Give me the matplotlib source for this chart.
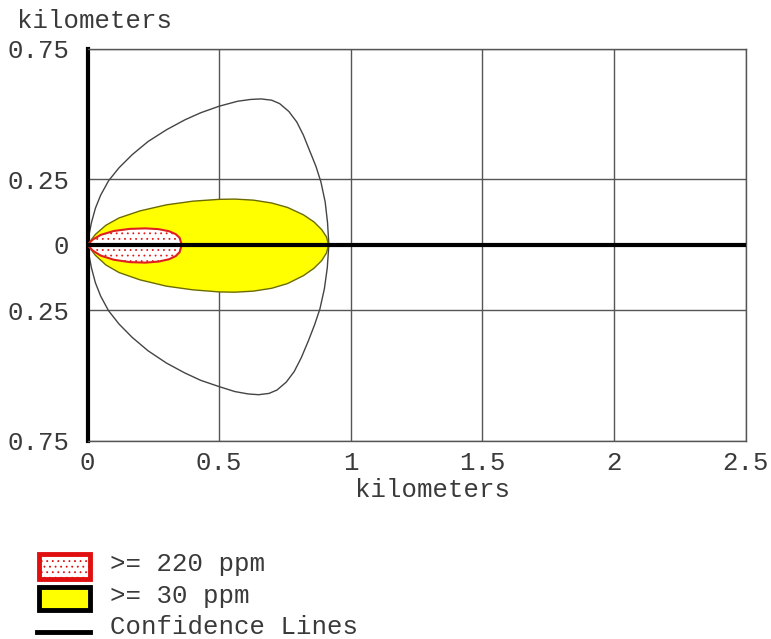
import matplotlib
matplotlib.use("Agg")
import matplotlib.pyplot as plt
from matplotlib.patches import Polygon, Rectangle
from matplotlib.lines import Line2D

plt.rcParams['font.family'] = ['Liberation Mono', 'DejaVu Sans Mono']
plt.rcParams['hatch.linewidth'] = 0.6

# threat zone outlines (km downwind, km crosswind)
red_x_top = [0, 0.02, 0.05, 0.1, 0.16, 0.22, 0.27, 0.31, 0.335, 0.35, 0.358]
red_y_top = [0, 0.02, 0.038, 0.053, 0.061, 0.063, 0.06, 0.052, 0.041, 0.027, 0]
red_x_bot = [0, 0.02, 0.05, 0.1, 0.16, 0.22, 0.27, 0.31, 0.335, 0.35, 0.358]
red_y_bot = [0, -0.022, -0.041, -0.057, -0.066, -0.068, -0.064, -0.055, -0.043, -0.028, 0]

yel_x_top = [0, 0.03, 0.07, 0.12, 0.2, 0.3, 0.4, 0.5, 0.56, 0.63, 0.7, 0.76, 0.82, 0.86, 0.89, 0.908, 0.916]
yel_y_top = [0, 0.04, 0.075, 0.103, 0.13, 0.153, 0.167, 0.174, 0.175, 0.171, 0.16, 0.143, 0.115, 0.088, 0.058, 0.03, 0]
yel_x_bot = [0, 0.03, 0.07, 0.12, 0.2, 0.3, 0.4, 0.5, 0.56, 0.63, 0.7, 0.76, 0.82, 0.86, 0.89, 0.908, 0.916]
yel_y_bot = [0, -0.04, -0.077, -0.106, -0.134, -0.158, -0.172, -0.18, -0.181, -0.177, -0.166, -0.148, -0.118, -0.09, -0.06, -0.031, 0]

conf_x_top = [0, 0.005, 0.015, 0.03, 0.05, 0.08, 0.12, 0.17, 0.23, 0.3, 0.37, 0.43, 0.5, 0.57, 0.62, 0.66, 0.7, 0.73, 0.765, 0.795, 0.82, 0.846, 0.868, 0.887, 0.903, 0.912, 0.917]
conf_y_top = [0, 0.035, 0.085, 0.14, 0.19, 0.245, 0.295, 0.345, 0.395, 0.44, 0.478, 0.505, 0.53, 0.549, 0.556, 0.558, 0.553, 0.54, 0.51, 0.47, 0.42, 0.355, 0.3, 0.24, 0.164, 0.085, 0]
conf_x_bot = [0, 0.005, 0.015, 0.03, 0.05, 0.08, 0.12, 0.17, 0.23, 0.3, 0.37, 0.43, 0.5, 0.56, 0.61, 0.65, 0.69, 0.72, 0.755, 0.785, 0.812, 0.84, 0.863, 0.883, 0.9, 0.911, 0.917]
conf_y_bot = [0, -0.036, -0.088, -0.145, -0.196, -0.252, -0.303, -0.354, -0.405, -0.452, -0.49, -0.518, -0.542, -0.561, -0.57, -0.573, -0.568, -0.555, -0.525, -0.485, -0.432, -0.365, -0.305, -0.245, -0.168, -0.088, 0]

center_x = [0, 2.5]
center_y = [0, 0]

x_ticks = [0, 0.5, 1, 1.5, 2, 2.5]
x_labels = ["0", "0.5", "1", "1.5", "2", "2.5"]
y_ticks = [-0.75, -0.25, 0, 0.25, 0.75]
y_labels = ["0.75", "0.25", "0", "0.25", "0.75"]

legend_labels = [">= 220 ppm", ">= 30 ppm", "Confidence Lines"]

W, H = 771, 639
fig = plt.figure(figsize=(W / 100, H / 100), dpi=100)
ax = fig.add_axes([87.5 / W, 1 - 441 / H, 658 / W, 392.3 / H])
txt = '#3a3a3a'
fs = 18.5

def outline(xt, yt, xb, yb):
    pts = list(zip(xt, yt)) + list(zip(xb, yb))[::-1]
    return pts

ax.add_patch(Polygon(outline(yel_x_top, yel_y_top, yel_x_bot, yel_y_bot), closed=True,
                     facecolor='#ffff00', edgecolor='#6b6b00', lw=1.0, zorder=3))
ax.add_patch(Polygon(outline(red_x_top, red_y_top, red_x_bot, red_y_bot), closed=True,
                     facecolor='white', edgecolor='#e02020', lw=1.5, hatch='...', zorder=4))
cx = conf_x_top + conf_x_bot[::-1]
cy = conf_y_top + conf_y_bot[::-1]
ax.plot(cx, cy, color='#444444', lw=1.0, zorder=2)
ax.plot(center_x, center_y, color='black', lw=3, solid_capstyle='butt', zorder=5)

ax.set_xlim(0, 2.5)
ax.set_ylim(-0.75, 0.75)
ax.set_xticks(x_ticks)
ax.set_xticklabels(x_labels)
ax.set_yticks(y_ticks)
ax.set_yticklabels(y_labels)
ax.tick_params(length=0, labelsize=fs, labelcolor=txt)
ax.tick_params(axis='y', pad=13)
ax.tick_params(axis='x', pad=7)
ax.grid(True, color='#555555', lw=1.0, zorder=0)
ax.set_axisbelow(True)
for s in ['top', 'right', 'bottom']:
    ax.spines[s].set_color('#555555')
    ax.spines[s].set_linewidth(1.0)
ax.spines['left'].set_color('black')
ax.spines['left'].set_linewidth(3)

ax.set_xlabel("kilometers", fontsize=fs, color=txt)
ax.xaxis.set_label_coords((432 - 87.5) / 658, -49 / 392.3)
ax.xaxis.label.set_va('center')
fig.text(95 / W, 1 - 21 / H, "kilometers", fontsize=fs, color=txt, ha='center', va='center')

# legend drawn by hand below the plot
def fx(p):
    return p / W

def fy(p):
    return 1 - p / H

fig.patches.append(Rectangle((fx(38.5), fy(578.5)), fx(51), 25 / H, transform=fig.transFigure,
                             facecolor='white', edgecolor='#e01010', lw=3.5, hatch='...', figure=fig))
fig.patches.append(Rectangle((fx(38.5), fy(610)), fx(51), 23.5 / H, transform=fig.transFigure,
                             facecolor='#ffff00', edgecolor='black', lw=3.5, figure=fig))
fig.lines.append(Line2D([fx(37), fx(90)], [fy(631.5), fy(631.5)], transform=fig.transFigure,
                        color='black', lw=3.5, figure=fig))
for lab, yy in zip(legend_labels, [564, 596, 627]):
    fig.text(fx(110), fy(yy), lab, fontsize=fs, color=txt, ha='left', va='center')

fig.savefig("out.png", dpi=100)
